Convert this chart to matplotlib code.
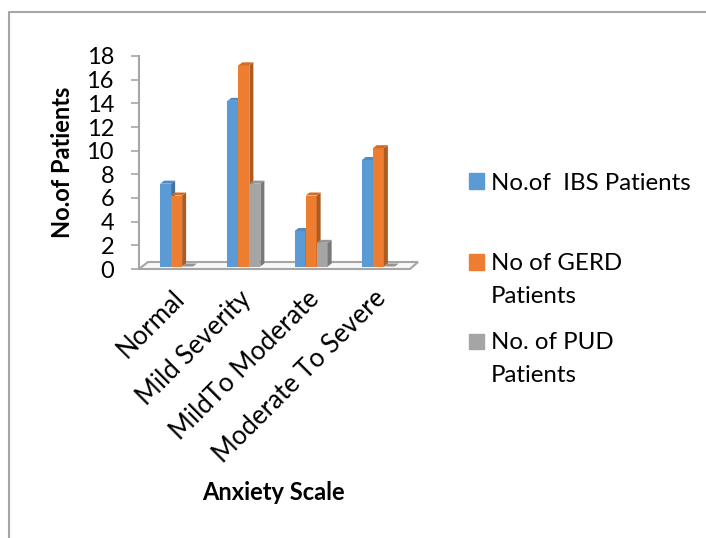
import numpy as np
import matplotlib.pyplot as plt
import matplotlib.transforms as mtransforms
from matplotlib.patches import Polygon, Rectangle
from matplotlib.lines import Line2D

# anxiety scale counts per disease group
categories = ['Normal', 'Mild Severity', 'MildTo Moderate', 'Moderate To Severe']
ibs = [7, 14, 3, 9]
gerd = [6, 17, 6, 10]
pud = [0, 7, 2, 0]
series_names = ['No.of  IBS Patients', 'No of GERD\nPatients', 'No. of PUD\nPatients']
yticks = list(range(0, 20, 2))

plt.rcParams['font.family'] = ['Lato', 'DejaVu Sans']

W, H = 706, 538
fig = plt.figure(figsize=(W / 100, H / 100), dpi=100)
ax = fig.add_axes([139 / W, 1 - 269 / H, 269 / W, 213 / H])
ax.set_xlim(0, 4)
ax.set_ylim(0, 18)

# size of one pixel in data units, used for the fake 3d depth
px_x = 4 / 269
px_y = 18 / 213
dx, dy = 4 * px_x, 3 * px_y
lift = 2.5 * px_y
shift = 4 * px_x
w = 11 * px_x

front = ['#5B9BD5', '#ED7D31', '#A5A5A5']
side = ['#41719C', '#AE5A21', '#787878']
top = ['#4F8AC2', '#D26D28', '#959595']

# floor slab under the bars
floor = Polygon([(0, 0), (271 * px_x, 0), (279 * px_x, 7 * px_y), (9 * px_x, 7 * px_y)],
                closed=True, facecolor='#F8F8F8', edgecolor='#A6A6A6', lw=1.5,
                clip_on=False, zorder=1)
ax.add_patch(floor)

x = np.arange(len(categories))
for j, vals in enumerate([ibs, gerd, pud]):
    z = 3 + j * 0.1
    bars = ax.bar(x + 0.5 + shift + (j - 1) * w, vals, width=w, bottom=lift,
                  color=front[j], zorder=z, clip_on=False)
    for r in bars:
        x0, y0 = r.get_x(), r.get_y()
        x1, y1 = x0 + r.get_width(), y0 + r.get_height()
        # right side face
        ax.add_patch(Polygon([(x1, y0), (x1 + dx, y0 + dy), (x1 + dx, y1 + dy), (x1, y1)],
                             facecolor=side[j], lw=0, zorder=z, clip_on=False))
        # top face
        ax.add_patch(Polygon([(x0, y1), (x1, y1), (x1 + dx, y1 + dy), (x0 + dx, y1 + dy)],
                             facecolor=top[j], lw=0, zorder=z, clip_on=False))

for s in ['top', 'right', 'bottom']:
    ax.spines[s].set_visible(False)
ax.spines['left'].set_color('#A6A6A6')
ax.spines['left'].set_linewidth(1.5)
ax.set_yticks(yticks)
ax.tick_params(axis='y', length=6, width=1.2, color='#A6A6A6', pad=12, labelsize=17)
ax.set_xticks(x + 0.5 + shift)
ax.set_xticklabels(categories, rotation=45, ha='right', va='top', rotation_mode='anchor')
ax.tick_params(axis='x', length=0, pad=10, labelsize=18.5)
# nudge the slanted category names a little left and down
nudge = mtransforms.ScaledTranslation(-5 / 100, -3 / 100, fig.dpi_scale_trans)
for lab in ax.get_xticklabels():
    lab.set_transform(lab.get_transform() + nudge)

fig.text(63 / W, 1 - 162 / H, 'No.of Patients', rotation=90, fontsize=17,
         fontweight='bold', ha='center', va='center')
fig.text(273 / W, 1 - 492 / H, 'Anxiety Scale', fontsize=17,
         fontweight='bold', ha='center', va='center')

# legend drawn by hand, markers next to the first line of each label
marker_y = [181, 262, 341]
text_y = [190, 270, 349]
for j, name in enumerate(series_names):
    fig.add_artist(Rectangle((469 / W, 1 - (marker_y[j] + 7.5) / H), 15 / W, 15 / H,
                             transform=fig.transFigure, color=front[j]))
    for k, line in enumerate(name.split('\n')):
        fig.text(491 / W, 1 - (text_y[j] + 33 * k) / H, line, fontsize=17.3, va='baseline')

# outer chart border
fig.add_artist(Line2D([9 / W, 9 / W, 1], [0, 1 - 12 / H, 1 - 12 / H],
                      transform=fig.transFigure, color='#A6A6A6', lw=1.5))

fig.savefig('out.png', dpi=100)
